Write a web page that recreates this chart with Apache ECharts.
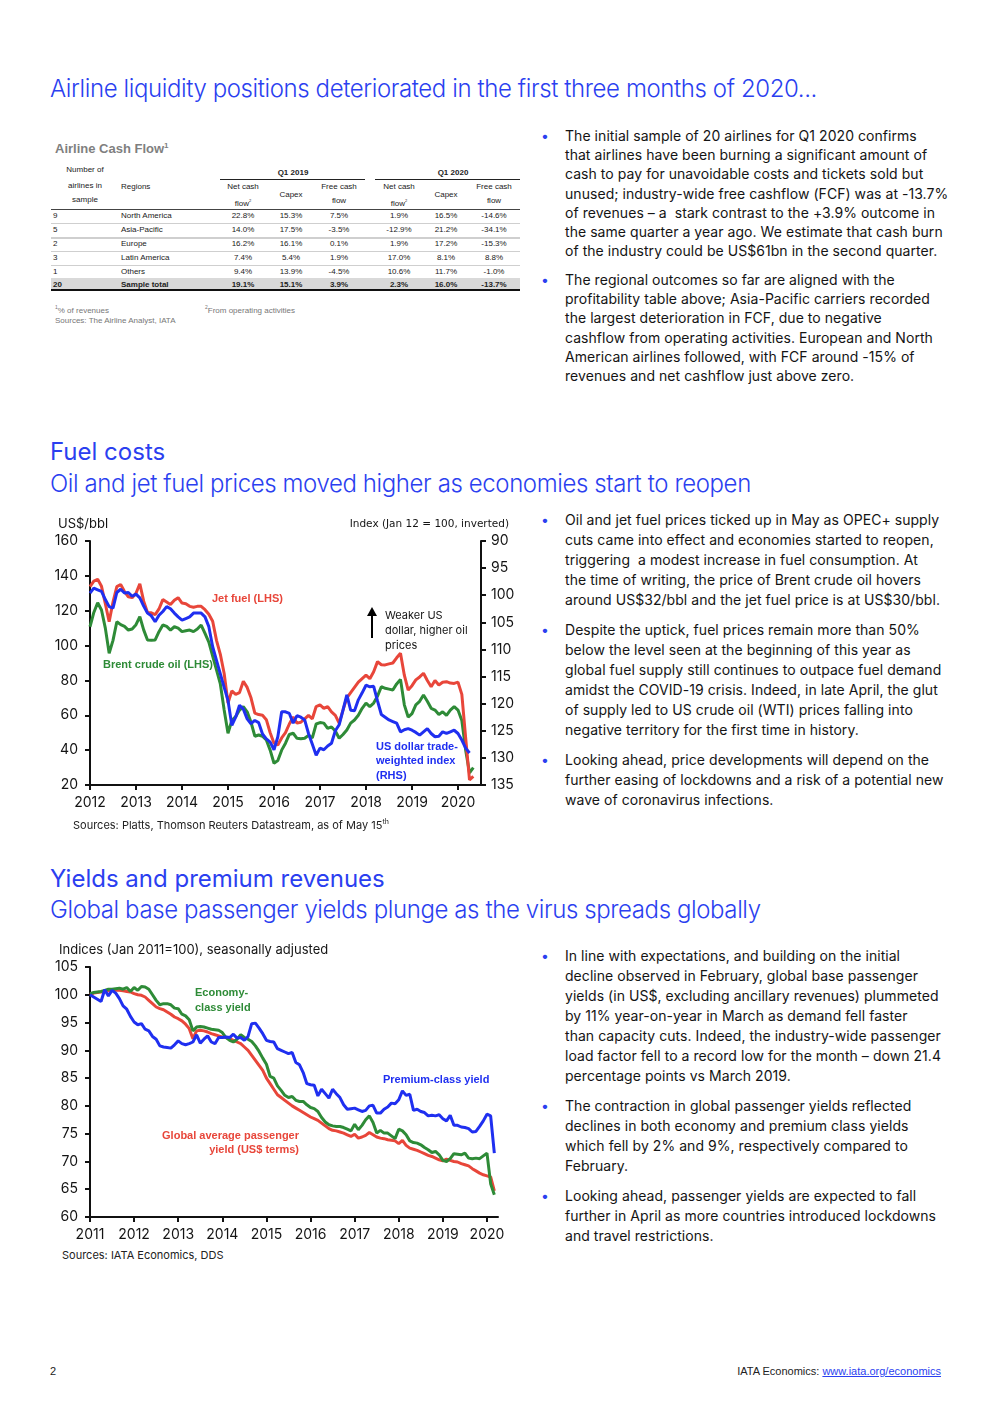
<!DOCTYPE html>
<html><head><meta charset="utf-8">
<script src="https://cdn.jsdelivr.net/npm/echarts@6/dist/echarts.min.js"></script>
<style>
html,body{margin:0;padding:0;background:#fff;}
body{width:992px;height:1403px;position:relative;overflow:hidden;font-family:Inter,"Open Sans",sans-serif;color:#141414;}
.a{position:absolute;white-space:nowrap;}
.h{color:#2b3ff0;font-size:24px;line-height:28px;font-weight:300;letter-spacing:-0.4px;}
.h2{color:#2b3ff0;font-size:24px;line-height:28px;font-weight:400;}
.p{font-size:14px;color:#141414;letter-spacing:0.05px;}
.p .b{position:absolute;left:-24px;top:0;color:#2b3ff0;}
.t{font-family:"Liberation Sans",Arial,sans-serif;font-size:8px;line-height:10px;color:#222;text-align:center;}
.src{font-size:11px;color:#222;}
</style></head>
<body>
<div class="a h" style="left:50px;top:75px;">Airline liquidity positions deteriorated in the first three months of 2020...</div>

<div class="a" style="left:55px;top:141px;font-family:'Liberation Sans',Arial,sans-serif;font-weight:bold;font-size:13px;color:#7f7f7f;">Airline Cash Flow<sup style="font-size:8px;">1</sup></div>
<div id="tbl"></div>
<div class="a" style="left:55px;top:304px;font-family:'Liberation Sans',Arial,sans-serif;font-size:8px;color:#777;"><sup style="font-size:5px;">1</sup>% of revenues</div>
<div class="a" style="left:205px;top:304px;font-family:'Liberation Sans',Arial,sans-serif;font-size:8px;color:#777;"><sup style="font-size:5px;">2</sup>From operating activities</div>
<div class="a" style="left:55px;top:316px;font-family:'Liberation Sans',Arial,sans-serif;font-size:8px;color:#777;">Sources: The Airline Analyst, IATA</div>

<div class="a p" style="left:565px;top:126px;line-height:19.2px;"><span class="b">•</span>The initial sample of 20 airlines for Q1 2020 confirms<br>that airlines have been burning a significant amount of<br>cash to pay for unavoidable costs and tickets sold but<br>unused; industry-wide free cashflow (FCF) was at -13.7%<br>of revenues – a&nbsp; stark contrast to the +3.9% outcome in<br>the same quarter a year ago. We estimate that cash burn<br>of the industry could be US$61bn in the second quarter.</div>
<div class="a p" style="left:565px;top:270px;line-height:19.2px;"><span class="b">•</span>The regional outcomes so far are aligned with the<br>profitability table above; Asia-Pacific carriers recorded<br>the largest deterioration in FCF, due to negative<br>cashflow from operating activities. European and North<br>American airlines followed, with FCF around -15% of<br>revenues and net cashflow just above zero.</div>

<div class="a h2" style="left:50px;top:438px;">Fuel costs</div>
<div class="a h" style="left:50px;top:470px;">Oil and jet fuel prices moved higher as economies start to reopen</div>

<div class="a p" style="left:565px;top:510px;line-height:20px;"><span class="b">•</span>Oil and jet fuel prices ticked up in May as OPEC+ supply<br>cuts came into effect and economies started to reopen,<br>triggering&nbsp; a modest increase in fuel consumption. At<br>the time of writing, the price of Brent crude oil hovers<br>around US$32/bbl and the jet fuel price is at US$30/bbl.</div>
<div class="a p" style="left:565px;top:620px;line-height:20px;"><span class="b">•</span>Despite the uptick, fuel prices remain more than 50%<br>below the level seen at the beginning of this year as<br>global fuel supply still continues to outpace fuel demand<br>amidst the COVID-19 crisis. Indeed, in late April, the glut<br>of supply led to US crude oil (WTI) prices falling into<br>negative territory for the first time in history.</div>
<div class="a p" style="left:565px;top:750px;line-height:20px;"><span class="b">•</span>Looking ahead, price developments will depend on the<br>further easing of lockdowns and a risk of a potential new<br>wave of coronavirus infections.</div>

<div id="c1" class="a" style="left:0;top:500px;width:540px;height:320px;"></div>
<div class="a src" style="left:73px;top:817px;">Sources: Platts, Thomson Reuters Datastream, as of May 15<sup style="font-size:7px;">th</sup></div>

<div class="a h2" style="left:50px;top:865px;">Yields and premium revenues</div>
<div class="a h" style="left:50px;top:896px;">Global base passenger yields plunge as the virus spreads globally</div>

<div class="a p" style="left:565px;top:946px;line-height:20px;"><span class="b">•</span>In line with expectations, and building on the initial<br>decline observed in February, global base passenger<br>yields (in US$, excluding ancillary revenues) plummeted<br>by 11% year-on-year in March as demand fell faster<br>than capacity cuts. Indeed, the industry-wide passenger<br>load factor fell to a record low for the month – down 21.4<br>percentage points vs March 2019.</div>
<div class="a p" style="left:565px;top:1096px;line-height:20px;"><span class="b">•</span>The contraction in global passenger yields reflected<br>declines in both economy and premium class yields<br>which fell by 2% and 9%, respectively compared to<br>February.</div>
<div class="a p" style="left:565px;top:1186px;line-height:20px;"><span class="b">•</span>Looking ahead, passenger yields are expected to fall<br>further in April as more countries introduced lockdowns<br>and travel restrictions.</div>

<div id="c2" class="a" style="left:0;top:930px;width:540px;height:315px;"></div>
<div class="a src" style="left:62px;top:1248px;">Sources: IATA Economics, DDS</div>

<div class="a" style="left:50px;top:1365px;font-family:'Liberation Sans Narrow','Liberation Sans',Arial,sans-serif;font-size:11px;color:#222;">2</div>
<div class="a" style="right:51px;top:1365px;font-family:'Liberation Sans Narrow','Liberation Sans',Arial,sans-serif;font-size:11px;color:#222;">IATA Economics: <span style="color:#2b3ff0;text-decoration:underline;">www.iata.org/economics</span></div>

<script>
// ---------------- Table data ----------------
const tableCounts = ['9','5','2','3','1','20'];
const tableRegions = ['North America','Asia-Pacific','Europe','Latin America','Others','Sample total'];
const netCash2019 = ['22.8%','14.0%','16.2%','7.4%','9.4%','19.1%'];
const capex2019   = ['15.3%','17.5%','16.1%','5.4%','13.9%','15.1%'];
const fcf2019     = ['7.5%','-3.5%','0.1%','1.9%','-4.5%','3.9%'];
const netCash2020 = ['1.9%','-12.9%','1.9%','17.0%','10.6%','2.3%'];
const capex2020   = ['16.5%','21.2%','17.2%','8.1%','11.7%','16.0%'];
const fcf2020     = ['-14.6%','-34.1%','-15.3%','8.8%','-1.0%','-13.7%'];

// ---------------- Fuel chart data (monthly, from Jan 2012) ----------------
const fuelStartYear = 2012;
const jetFuel = [
 133.8,137,138,134,124,113.7,125,133.8,135,131,128,127.5,
 130,135.5,125.5,119,118.8,117.8,121,126.4,125,123.5,126,127.5,
 124.4,124,122.5,122,122.5,122.5,120.6,118,114,103,95,84,
 67,74,72,73,79.5,76,70,61.3,60.4,60,57.5,50,
 44,43,47,50,55,59,55.5,56,58,60,58,65,
 66,64,65,62,60,55.5,63,70,73,76,79,81,
 83,81,85,90.8,89,88.9,89.5,90,93,95.6,83,74.5,
 77,80.3,82,84.1,80,76.4,80,77.4,79,79.3,78.5,78.3,
 79,72,47,23,25
];
const brentCrude = [
 110.8,119,124.6,120.4,110,95.6,103,113.7,112,111,108.9,109.5,
 112,116.6,109,103.2,103,103.2,108,111.8,111,108.9,110.8,110,
 108,108.5,108.9,108,109.5,111.8,107,102,94,86,78,63,
 49.7,57,59.2,63,64.9,62,56,48,48.7,48,45.8,40,
 32.5,34,40,44,49,49.7,46.8,46.5,46.8,48.5,47,55,
 55.8,55.5,52.5,53.3,51,46.8,49,51.6,55.5,57.3,60,64,
 67,65,67,71,76.4,75.5,75,74.5,78,80.6,66,59,
 61,66,68,71.6,68,64,63,60.5,62,60,63,65,
 63,57,40,27,30
];
const usdIndex = [
 99.6,98.7,99,99.3,100.8,102.1,102.4,99.5,98.9,99.6,99.5,100.2,
 99.8,100.5,102,103.3,103.8,104.9,103.7,103,102.1,102.5,103.3,104,
 104.6,104.3,104,103.3,103.3,103.3,104,105.8,109.5,112,114.5,117,
 119.4,124,122.5,120.3,121,122.8,123.7,123.1,123.5,125.6,126.5,127.1,
 128.5,126.1,121.5,121.5,121.8,123.6,122.2,122.5,123,125.5,127.5,129.5,
 128.2,128.5,127.8,127.3,125,123.9,121.2,118.4,121.2,121.3,119.3,118,
 116.6,116.9,116.8,119.5,122,122.5,123,123.3,123.6,125.2,124.8,124.6,
 124.9,125.3,125.8,125.2,124.6,125.5,126.1,126,125.2,125.5,125.2,124.9,
 125.5,126.7,128.2,129.1
];
const fuelMonths = 103;           // axis runs Jan 2012 - Jul 2020
const leftTicks = {min:20, max:160, interval:20};
const rightTicks = {min:90, max:135, interval:5};

// ---------------- Yield chart data (monthly, from Jan 2011) ----------------
const yieldStartYear = 2011;
const globalYield = [
 100,100.3,100.4,100.5,100.6,100.7,100.8,100.8,100.8,100.7,100.6,100.5,
 100.2,100,99.9,99.6,99,98.4,97.8,97.5,97.3,96.9,96.5,96,
 95.7,95.3,94.7,93.9,92.1,93.5,93.6,93.5,93.3,93,92.8,92.6,
 92.4,92.3,92.1,91.8,91.5,91.2,90.6,90,89.1,88.2,87.3,86.4,
 85,84,83,82,81.5,81,80.5,80,79.6,79.2,78.8,78.4,
 78,77.7,77.4,76.9,76.4,75.9,75.6,75.5,75.3,75.1,74.8,74.5,
 74.9,74.2,74.4,74.7,75.2,74.8,74.4,74.2,74.1,73.9,73.8,73.7,
 73.2,73.8,72.9,72.4,72.2,72,71.7,71.4,71.1,70.9,70.6,70.3,
 70.1,70.4,70.2,70,69.9,69.6,69.4,69.2,68.7,68.3,67.9,67.6,
 67.4,67.2,64.7
];
const economyYield = [
 100.2,100.4,100.5,100.6,100.8,101,101,101.1,101.2,101,101.3,100.6,
 101.3,100.8,101.5,101.4,101,100,99,98.2,98.4,98.4,98.2,97.6,
 97.5,96.5,96.2,95.5,93.5,94.2,94.3,94.2,94,93.8,93.7,93.6,
 93.2,92.3,91.8,91.5,92,92.8,92.3,92,91.6,90.8,89.8,88.6,
 87.5,85.3,85,83.6,82.8,81.9,81.5,81.7,81,80.8,80.8,80.2,
 79.7,79.5,79,77.9,77.1,76.6,76.4,76.3,76.3,76.1,75.8,75.5,
 76.7,75.7,76.5,77.5,78.2,77,75.1,75.6,75.1,75.1,74.6,74.1,
 75.8,75.5,74.8,73.7,73.4,73.3,73,72.5,72.1,71.6,71.8,71.2,
 70.2,70,70.5,71.4,71.3,71.2,71.5,70.6,70.5,70.6,70.5,71,
 71.5,66,64
];
const premiumYield = [
 100,99.6,99.2,98.8,100.9,99.8,100.8,100.3,99.3,98,97.4,96.1,
 95.1,94.6,94.8,93.8,93.5,92.5,92,90.8,90.6,90.5,90.4,91,
 91.7,91.2,91,91.2,91.5,92.8,91.3,92,92.6,91.5,91.2,92.3,
 92.3,92.4,92.3,92.9,92.2,92.3,91.8,92.5,94.8,94.9,94,93,
 91.8,91.6,91.5,90.3,90,89.7,89.4,89.6,87.8,87.4,86,84,
 83.8,83.7,81.8,83,82.2,81.4,83,82.2,81.5,80.2,79.4,79.5,
 79.6,79.3,79,79.2,80,80.1,78.7,78.7,79.4,79.8,80.5,80.4,
 81.1,82.7,81.9,82.1,79.2,79.4,79,78.8,78.2,78.3,78.2,78.4,
 77.7,77.3,78.3,76.5,76.5,76.2,76.1,75.9,75.3,75.4,76.3,77.3,
 78.5,78.2,71.5
];
const yieldMonths = 112;          // axis runs Jan 2011 - Apr 2020
const yieldTicks = {min:60, max:105, interval:5};

// ---------------- Build table ----------------
(function(){
  const tbl = document.getElementById('tbl');
  function add(html, css){ const d=document.createElement('div'); d.className='a t'; d.innerHTML=html; d.style.cssText+=css; tbl.appendChild(d); }
  function line(x1,x2,y,h,c){ const d=document.createElement('div'); d.className='a'; d.style.cssText=`left:${x1}px;top:${y}px;width:${x2-x1}px;height:${h}px;background:${c};`; tbl.appendChild(d); }
  [['Number of',165],['airlines in',181],['sample',195]].forEach(([s,y])=>add(s,`left:55px;top:${y}px;width:60px;`));
  add('Regions',`left:121px;top:182px;text-align:left;`);
  add('<b>Q1 2019</b>',`left:253px;top:168px;width:80px;`);
  add('<b>Q1 2020</b>',`left:413px;top:168px;width:80px;`);
  line(220,365,179,1,'#222'); line(375,520,179,1,'#222');
  const colX = [243,291,339,399,446,494];
  [0,3].forEach(o=>{
    add('Net cash',`left:${colX[o]-30}px;top:182px;width:60px;`);
    add('flow<sup style="font-size:4px;">2</sup>',`left:${colX[o]-30}px;top:196px;width:60px;`);
    add('Capex',`left:${colX[o+1]-30}px;top:190px;width:60px;`);
    add('Free cash',`left:${colX[o+2]-30}px;top:182px;width:60px;`);
    add('flow',`left:${colX[o+2]-30}px;top:196px;width:60px;`);
  });
  const rowTop = [209,223,237,251,264.5,278];
  line(51,520,209,1,'#444');
  line(51,520,277.5,12,'#d9d9d9');
  const cols=[netCash2019,capex2019,fcf2019,netCash2020,capex2020,fcf2020];
  for(let r=0;r<6;r++){
    const y=rowTop[r]+2;
    const bold = r===5 ? 'font-weight:bold;' : '';
    add(tableCounts[r],`left:53px;top:${y}px;text-align:left;${bold}`);
    add(tableRegions[r],`left:121px;top:${y}px;text-align:left;${bold}`);
    cols.forEach((c,i)=>add(c[r],`left:${colX[i]-30}px;top:${y}px;width:60px;${bold}`));
    if(r>0 && r<5) line(51,520,rowTop[r],r===2?2:1,'#cfcfcf');
  }
  line(51,520,289,2,'#111');
})();

// ---------------- Charts ----------------
function monthCats(y0,n){const o=[];for(let i=0;i<n;i++){const y=y0+Math.floor(i/12),m=i%12+1;o.push(y+'-'+(m<10?'0':'')+m);}return o;}
const isJan = (i,v)=>v.slice(5)==='01';
const FONT = 'Inter, "Open Sans", sans-serif';
const LBL = '"Liberation Sans", Arial, sans-serif';
const RED='#e8463a', GREEN='#2e8b37', BLUE='#1f2ff0';

function xAxisCfg(cats){
  return {type:'category',data:cats,boundaryGap:false,
    axisLine:{lineStyle:{color:'#111',width:2}},
    axisTick:{show:true,interval:isJan,length:5,lineStyle:{color:'#111',width:2}},
    axisLabel:{interval:isJan,formatter:v=>v.slice(0,4),color:'#141414',fontSize:14,fontFamily:FONT,margin:11},
    splitLine:{show:false}};
}
function yAxisCfg(t,extra){
  return Object.assign({type:'value',min:t.min,max:t.max,interval:t.interval,
    axisLine:{show:true,lineStyle:{color:'#111',width:2}},
    axisTick:{show:true,length:5,lineStyle:{color:'#111',width:2}},
    axisLabel:{color:'#141414',fontSize:14,fontFamily:FONT,margin:12},
    splitLine:{show:false}},extra||{});
}
function txt(x,y,text,fill,font,align,lh){
  return {type:'text',x:x,y:y,silent:true,style:{text:text,fill:fill,font:font,align:align||'left',verticalAlign:'middle',lineHeight:lh||14}};
}

const c1 = echarts.init(document.getElementById('c1'),null,{renderer:'canvas'});
c1.setOption({
  animation:false,
  grid:{left:90,top:41,width:391,height:244,containLabel:false},
  xAxis:xAxisCfg(monthCats(fuelStartYear,fuelMonths)),
  yAxis:[yAxisCfg(leftTicks),yAxisCfg(rightTicks,{position:'right',inverse:true,axisLabel:{color:'#141414',fontSize:14,fontFamily:FONT,margin:10}})],
  series:[
    {type:'line',data:brentCrude,yAxisIndex:0,symbol:'none',lineStyle:{color:GREEN,width:3},itemStyle:{color:GREEN}},
    {type:'line',data:jetFuel,yAxisIndex:0,symbol:'none',lineStyle:{color:RED,width:3},itemStyle:{color:RED}},
    {type:'line',data:usdIndex,yAxisIndex:1,symbol:'none',lineStyle:{color:BLUE,width:3},itemStyle:{color:BLUE}}
  ],
  graphic:[
    txt(58,24,'US$/bbl','#141414','13px '+FONT),
    txt(509,24,'Index (Jan 12 = 100, inverted)','#141414','10.5px "DejaVu Sans", sans-serif','right'),
    txt(212,99,'Jet fuel (LHS)',RED,'bold 11px '+LBL),
    txt(103,165,'Brent crude oil (LHS)',GREEN,'bold 11px '+LBL),
    txt(376,261,'US dollar trade-\nweighted index\n(RHS)',BLUE,'bold 11px '+LBL,'left',14.5),
    txt(385,131,'Weaker US\ndollar, higher oil\nprices','#141414','11px '+FONT,'left',15),
    {type:'line',silent:true,shape:{x1:372,y1:138,x2:372,y2:114},style:{stroke:'#000',lineWidth:2}},
    {type:'polygon',silent:true,shape:{points:[[367,116],[377,116],[372,107]]},style:{fill:'#000'}}
  ]
});

const c2 = echarts.init(document.getElementById('c2'),null,{renderer:'canvas'});
c2.setOption({
  animation:false,
  grid:{left:90,top:37,width:408,height:250,containLabel:false},
  xAxis:xAxisCfg(monthCats(yieldStartYear,yieldMonths)),
  yAxis:yAxisCfg(yieldTicks),
  series:[
    {type:'line',data:globalYield,symbol:'none',lineStyle:{color:RED,width:3},itemStyle:{color:RED}},
    {type:'line',data:economyYield,symbol:'none',lineStyle:{color:GREEN,width:3},itemStyle:{color:GREEN}},
    {type:'line',data:premiumYield,symbol:'none',lineStyle:{color:BLUE,width:3},itemStyle:{color:BLUE}}
  ],
  graphic:[
    txt(59,20,'Indices (Jan 2011=100), seasonally adjusted','#141414','13px '+FONT),
    txt(195,70,'Economy-\nclass yield',GREEN,'bold 11px '+LBL,'left',15),
    txt(383,150,'Premium-class yield',BLUE,'bold 11px '+LBL),
    txt(299,213,'Global average passenger\nyield (US$ terms)',RED,'bold 11px '+LBL,'right',14)
  ]
});
</script>
</body></html>
